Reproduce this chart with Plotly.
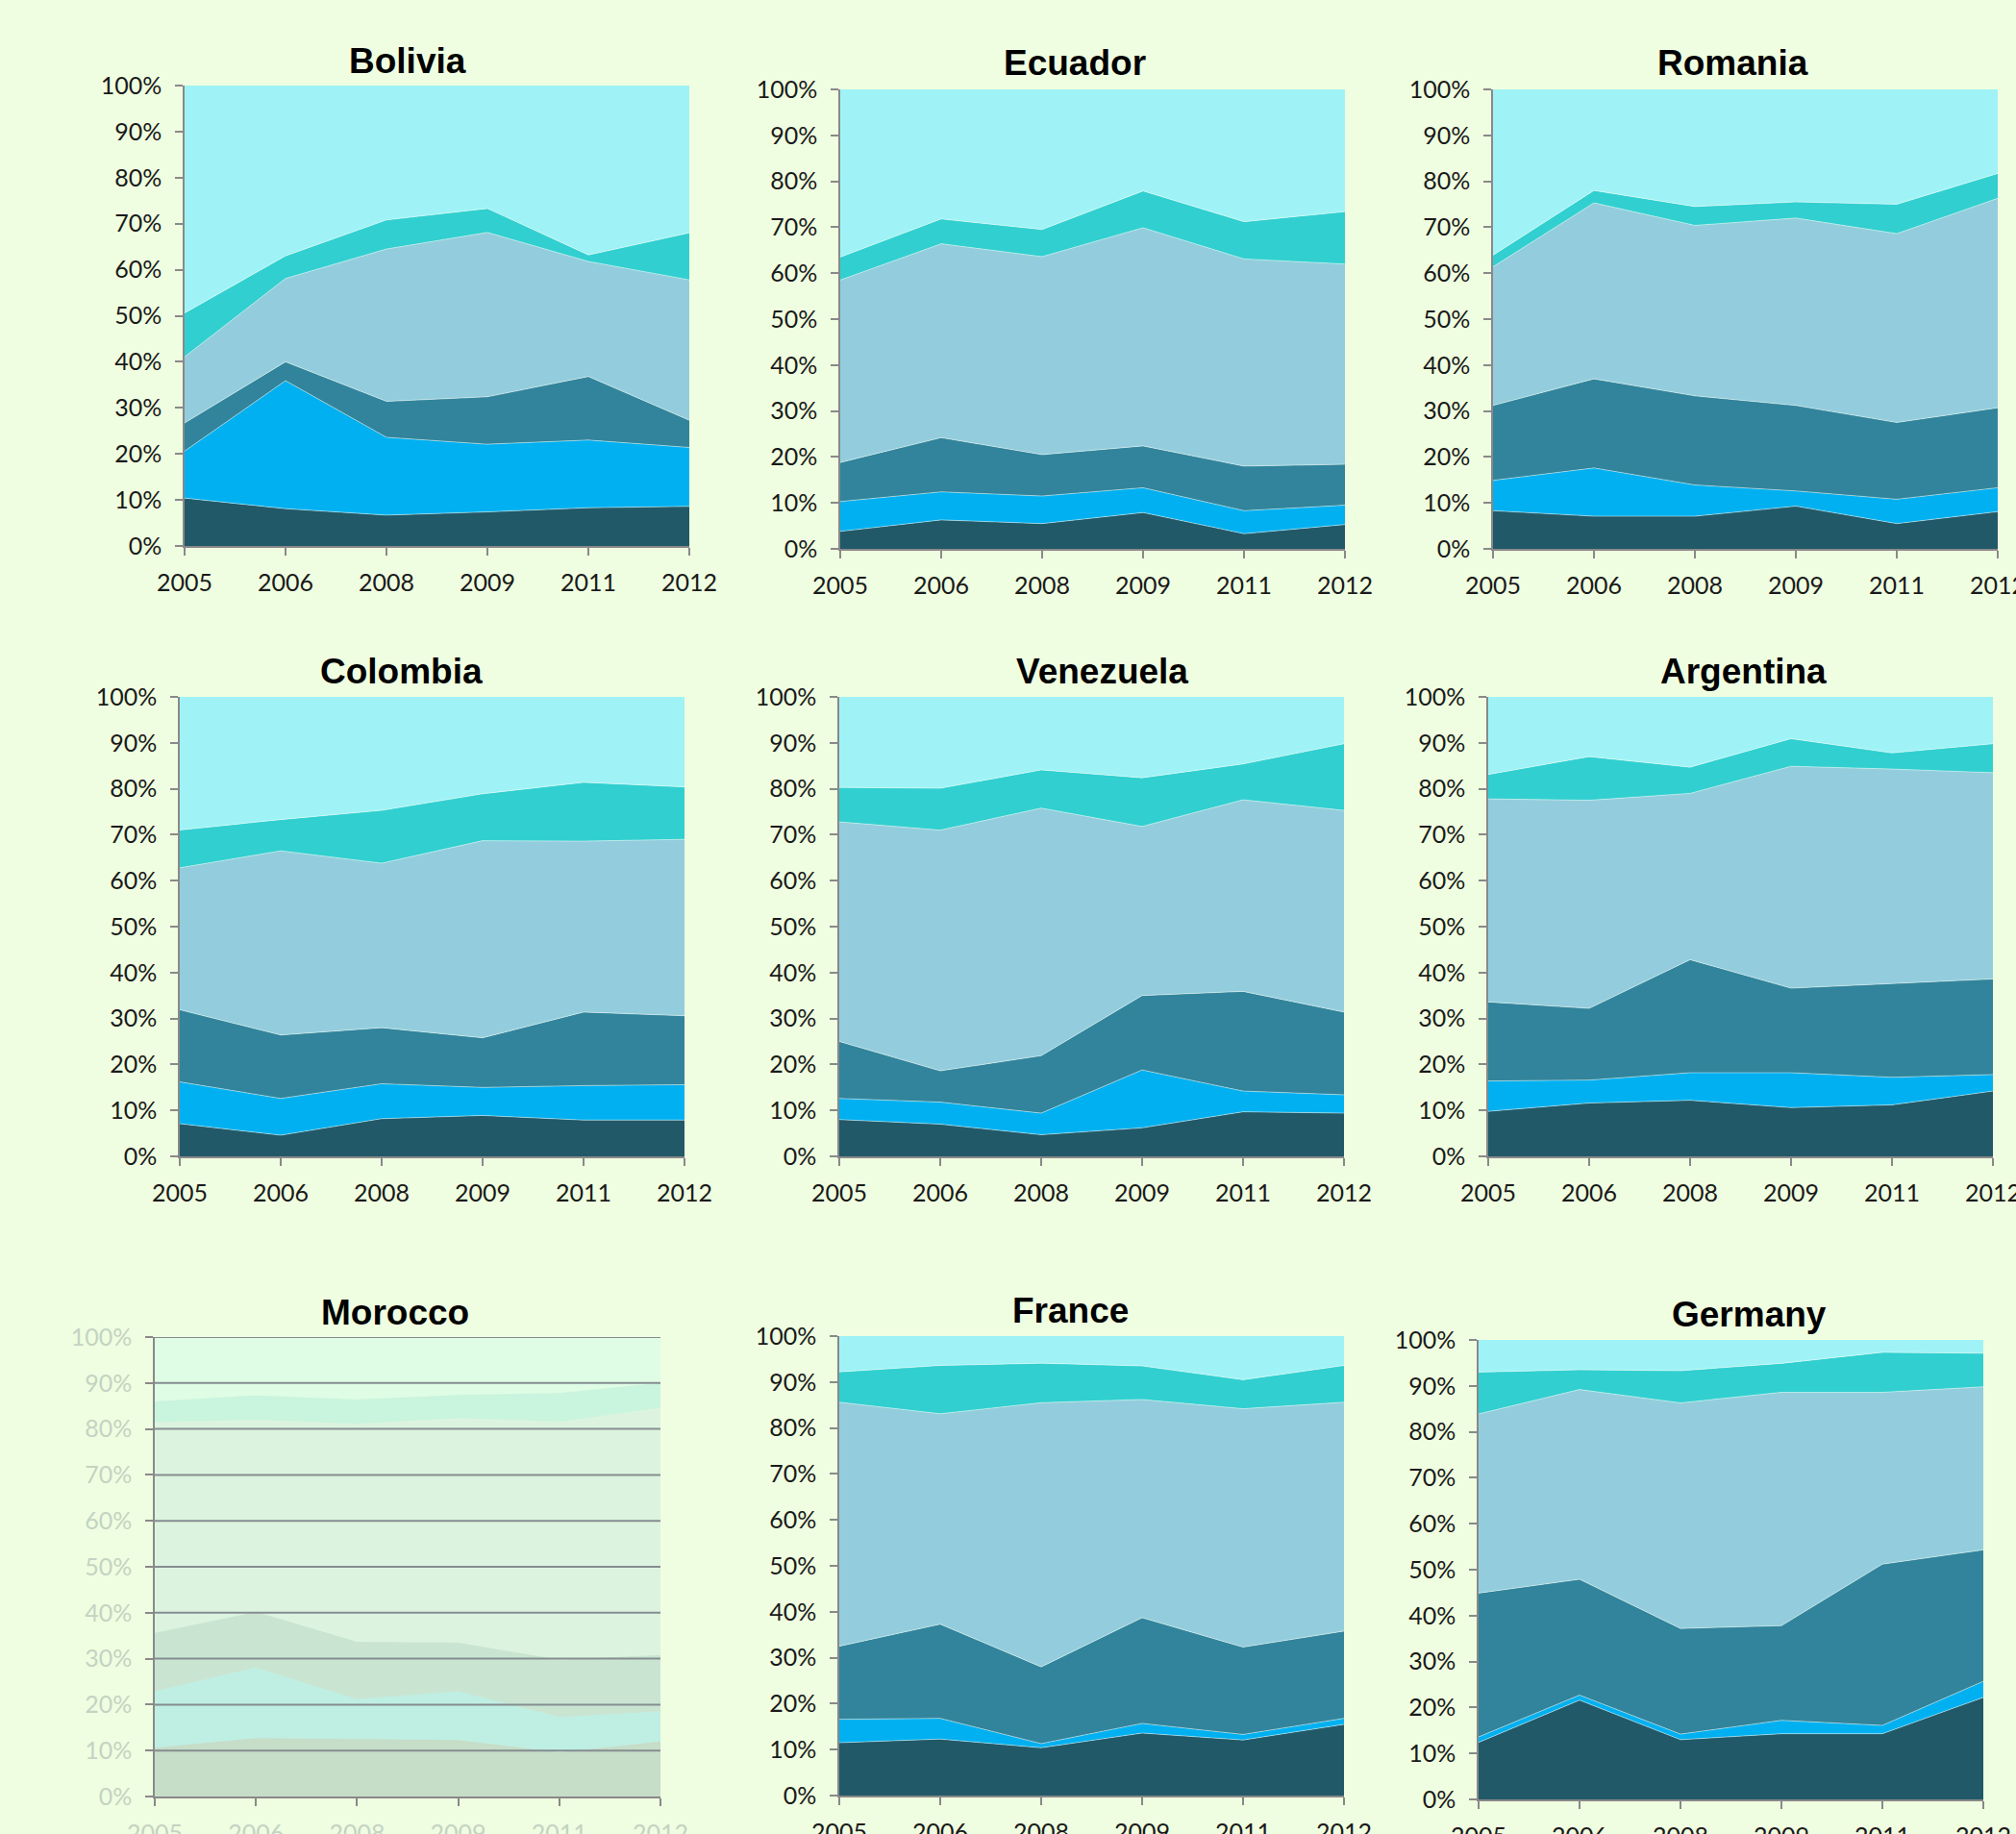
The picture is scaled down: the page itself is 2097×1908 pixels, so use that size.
import plotly.graph_objects as go

# ---------------- data (shares of each layer, % of total) ----------------
years = ["2005", "2006", "2008", "2009", "2011", "2012"]
series_names = ["Series 1", "Series 2", "Series 3", "Series 4", "Series 5", "Series 6"]
countries = ["Bolivia", "Ecuador", "Romania",
             "Colombia", "Venezuela", "Argentina",
             "Morocco", "France", "Germany"]

bolivia = [
    [10.4, 8.1, 6.7, 7.4, 8.3, 8.6],
    [10.2, 27.8, 16.9, 14.7, 14.7, 12.8],
    [6.1, 4.1, 7.8, 10.3, 13.8, 5.9],
    [14.4, 18.1, 33.1, 35.7, 25.0, 30.5],
    [9.5, 4.9, 6.3, 5.2, 1.4, 10.2],
    [49.4, 37.0, 29.2, 26.7, 36.8, 32.0],
]
ecuador = [
    [3.8, 6.3, 5.5, 7.9, 3.3, 5.3],
    [6.5, 6.1, 6.0, 5.4, 5.0, 4.2],
    [8.5, 11.8, 9.0, 9.1, 9.7, 8.9],
    [39.7, 42.2, 43.1, 47.5, 45.1, 43.6],
    [5.0, 5.4, 5.9, 8.0, 8.1, 11.4],
    [36.5, 28.2, 30.5, 22.1, 28.8, 26.6],
]
romania = [
    [8.3, 7.1, 7.1, 9.3, 5.5, 8.1],
    [6.6, 10.5, 6.8, 3.3, 5.3, 5.2],
    [16.3, 19.4, 19.4, 18.6, 16.7, 17.4],
    [30.2, 38.3, 37.1, 40.8, 41.1, 45.6],
    [2.5, 2.7, 4.1, 3.5, 6.4, 5.4],
    [36.1, 22.0, 25.5, 24.5, 25.0, 18.3],
]
colombia = [
    [7.1, 4.6, 8.2, 8.9, 7.9, 7.9],
    [9.1, 8.0, 7.6, 6.1, 7.5, 7.7],
    [15.7, 13.8, 12.2, 10.8, 16.0, 15.0],
    [30.9, 40.1, 35.8, 42.9, 37.2, 38.4],
    [8.2, 6.8, 11.5, 10.2, 12.8, 11.4],
    [29.0, 26.7, 24.7, 21.1, 18.6, 19.6],
]
venezuela = [
    [8.0, 7.0, 4.7, 6.2, 9.7, 9.4],
    [4.6, 4.8, 4.7, 12.6, 4.5, 4.0],
    [12.4, 6.8, 12.5, 16.2, 21.7, 18.0],
    [47.8, 52.4, 53.9, 36.8, 41.7, 43.9],
    [7.5, 9.1, 8.3, 10.6, 7.8, 14.5],
    [19.7, 19.9, 15.9, 17.6, 14.6, 10.2],
]
argentina = [
    [9.8, 11.6, 12.2, 10.6, 11.2, 14.2],
    [6.6, 5.0, 6.0, 7.6, 6.0, 3.6],
    [17.2, 15.6, 24.6, 18.4, 20.4, 20.8],
    [44.2, 45.3, 36.2, 48.3, 46.7, 44.9],
    [5.3, 9.5, 5.7, 6.0, 3.5, 6.3],
    [16.9, 13.0, 15.3, 9.1, 12.2, 10.2],
]
morocco = [
    [10.6, 12.7, 12.5, 12.3, 9.6, 12.0],
    [12.3, 15.4, 8.7, 10.6, 7.7, 6.5],
    [12.7, 12.1, 12.5, 10.6, 12.5, 12.3],
    [45.9, 41.8, 47.4, 48.9, 51.8, 53.8],
    [4.5, 5.3, 5.3, 5.0, 6.2, 5.4],
    [14.0, 12.7, 13.6, 12.6, 12.2, 10.0],
]
france = [
    [11.5, 12.3, 10.4, 13.6, 12.1, 15.5],
    [5.1, 4.5, 0.9, 2.1, 1.2, 1.3],
    [15.9, 20.5, 16.7, 23.0, 19.0, 19.0],
    [53.1, 45.8, 57.5, 47.5, 51.9, 49.8],
    [6.6, 10.5, 8.6, 7.3, 6.3, 8.0],
    [7.8, 6.4, 5.9, 6.5, 9.5, 6.4],
]
germany = [
    [12.4, 21.6, 13.0, 14.3, 14.3, 22.2],
    [1.2, 1.1, 1.2, 2.9, 1.8, 3.5],
    [31.3, 25.2, 23.0, 20.6, 35.1, 28.6],
    [39.0, 41.3, 49.1, 50.8, 37.4, 35.5],
    [9.1, 4.3, 7.0, 6.3, 8.7, 7.3],
    [7.0, 6.5, 6.7, 5.1, 2.7, 2.9],
]
country_data = [bolivia, ecuador, romania, colombia, venezuela, argentina,
                morocco, france, germany]

y_ticks = [0, 10, 20, 30, 40, 50, 60, 70, 80, 90, 100]
y_tick_labels = [f"{v}%" for v in y_ticks]

# ---------------- styling / layout ----------------
W, H = 2097, 1908
BG = "#effee0"
colors = ["#215968", "#00b0f0", "#31849b", "#93cddd", "#31cfd0", "#9ff3f6"]
faded_alpha = 0.2
AXIS_GRAY = "#898989"
TICK_FAMILY = "Lato, 'Open Sans', sans-serif"
TICK_SIZE = 25
TICK_COLOR = "#1a1a1a"
FADED_TICK_COLOR = "#c4d3c3"

# plot boxes in pixels: left, right, top, bottom
boxes = [
    (192, 717, 89, 568), (874, 1399, 93, 571), (1553, 2078, 93, 571),
    (187, 712, 725, 1203), (873, 1398, 725, 1203), (1548, 2073, 725, 1203),
    (161, 687, 1391, 1869), (873, 1398, 1390, 1868), (1538, 2063, 1394, 1872),
]
title_pos = [
    (424, 63), (1118, 65), (1802, 65),
    (417, 698), (1146, 698), (1813, 698),
    (411, 1365), (1113, 1363), (1819, 1367),
]
faded_panel = "Morocco"


def hex_to_rgba(h, a):
    h = h.lstrip("#")
    r, g, b = int(h[0:2], 16), int(h[2:4], 16), int(h[4:6], 16)
    return f"rgba({r},{g},{b},{a})"


fig = go.Figure()
layout = {}
annotations = []
shapes = []

for i, (name, series) in enumerate(zip(countries, country_data)):
    n = i + 1
    xa = "x" if n == 1 else f"x{n}"
    ya = "y" if n == 1 else f"y{n}"
    faded = name == faded_panel
    for k, vals in enumerate(series):
        fill = hex_to_rgba(colors[k], faded_alpha) if faded else colors[k]
        line_col = "rgba(255,255,255,0)" if faded or k == len(series) - 1 else "rgba(255,255,255,0.45)"
        fig.add_trace(go.Scatter(
            x=years, y=vals, name=series_names[k], mode="lines",
            stackgroup=f"g{n}", groupnorm="percent",
            fillcolor=fill, line=dict(width=1, color=line_col),
            xaxis=xa, yaxis=ya, showlegend=False, hoverinfo="skip",
        ))

    l, r, t, b = boxes[i]
    tick_col = FADED_TICK_COLOR if faded else TICK_COLOR
    layout["xaxis" if n == 1 else f"xaxis{n}"] = dict(
        domain=[l / W, r / W], anchor=ya, type="category", automargin=False,
        range=[0, len(years) - 1], showgrid=False, zeroline=False,
        showline=True, linecolor=AXIS_GRAY, linewidth=1.5,
        ticks="outside", ticklen=8, tickcolor=AXIS_GRAY, tickwidth=1.5,
        tickfont=dict(family=TICK_FAMILY, size=TICK_SIZE, color=tick_col),
        ticklabelstandoff=7, fixedrange=True,
    )
    layout["yaxis" if n == 1 else f"yaxis{n}"] = dict(
        domain=[1 - b / H, 1 - t / H], anchor=xa, range=[0, 100], automargin=False,
        tickmode="array", tickvals=y_ticks, ticktext=y_tick_labels,
        showgrid=False, zeroline=False,
        showline=True, linecolor=AXIS_GRAY, linewidth=1.5,
        ticks="outside", ticklen=8, tickcolor=AXIS_GRAY, tickwidth=1.5,
        tickfont=dict(family=TICK_FAMILY, size=TICK_SIZE, color=tick_col),
        ticklabelstandoff=9, fixedrange=True,
    )
    tx, ty = title_pos[i]
    annotations.append(dict(
        text=f"<b>{name}</b>", x=tx / W, y=1 - ty / H, xref="paper", yref="paper",
        xanchor="center", yanchor="middle", showarrow=False,
        font=dict(family="'Liberation Sans', Arial, sans-serif", size=37, color="#000000"),
    ))
    if faded:
        for v in y_ticks[1:]:
            shapes.append(dict(
                type="line", xref=f"{xa} domain", yref=ya, x0=0, x1=1, y0=v, y1=v,
                line=dict(color="#858d90", width=2), layer="above",
            ))

fig.update_layout(
    width=W, height=H, margin=dict(l=0, r=0, t=0, b=0, autoexpand=False),
    paper_bgcolor=BG, plot_bgcolor=BG, showlegend=False,
    annotations=annotations, shapes=shapes, **layout,
)

fig.write_html("out.html", config={"displayModeBar": False})
